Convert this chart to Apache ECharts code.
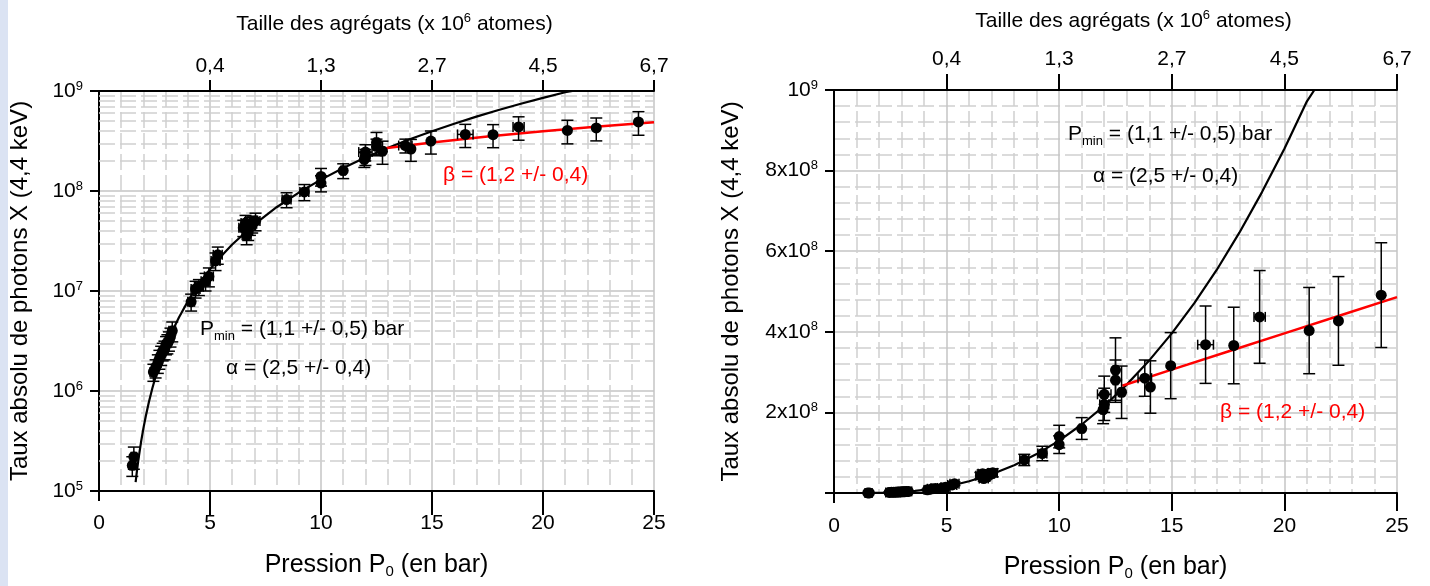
<!DOCTYPE html>
<html>
<head>
<meta charset="utf-8">
<script src="https://cdn.jsdelivr.net/npm/echarts@6/dist/echarts.min.js"></script>
<style>
html,body{margin:0;padding:0;background:#fff;}
#chart{width:1430px;height:586px;}
</style>
</head>
<body>
<div id="chart"></div>
<script>
// ---- data ----
var pressure    = [1.50,1.57,2.45,2.55,2.65,2.72,2.80,2.87,2.95,3.02,3.08,3.15,3.22,3.30,4.15,4.35,4.50,4.80,4.95,5.25,5.35,6.50,6.60,6.65,6.72,6.80,6.90,7.05,8.45,9.25,10.0,10.0,11.0,11.95,12.0,12.0,12.5,12.5,12.77,13.8,14.05,14.95,16.5,17.75,18.9,21.1,22.4,24.3];
var photons     = [1.8e5,2.2e5,1.55e6,1.7e6,1.9e6,2.1e6,2.3e6,2.5e6,2.6e6,2.9e6,3.0e6,3.2e6,3.5e6,4.0e6,7.8e6,1.05e7,1.1e7,1.25e7,1.4e7,2.0e7,2.3e7,4.3e7,4.8e7,3.6e7,4.0e7,4.5e7,4.7e7,5.0e7,8.2e7,9.8e7,1.2e8,1.4e8,1.6e8,2.07e8,2.2e8,2.45e8,3.05e8,2.8e8,2.5e8,2.85e8,2.63e8,3.16e8,3.68e8,3.66e8,4.37e8,4.03e8,4.27e8,4.91e8];
var photonsErr  = [0.4e5,0.55e5,0.3e6,0.35e6,0.4e6,0.45e6,0.5e6,0.5e6,0.55e6,0.6e6,0.65e6,0.7e6,0.75e6,0.9e6,1.5e6,0.2e7,0.2e7,0.25e7,0.3e7,0.4e7,0.45e7,0.8e7,0.9e7,0.7e7,0.8e7,0.9e7,0.9e7,1.0e7,1.4e7,1.8e7,0.22e8,0.28e8,0.27e8,0.35e8,0.4e8,0.45e8,0.8e8,0.5e8,0.65e8,0.45e8,0.65e8,0.82e8,0.96e8,0.95e8,1.15e8,1.07e8,1.1e8,1.3e8];
var pressureErr = [0.12,0.12,0.15,0.15,0.15,0.15,0.15,0.15,0.15,0.15,0.15,0.15,0.15,0.15,0.15,0.2,0.2,0.2,0.2,0.2,0.2,0.2,0.2,0.2,0.2,0.2,0.2,0.2,0.2,0.2,0.05,0.05,0.1,0.1,0.2,0.3,0.1,0.1,0.1,0.3,0.05,0.05,0.35,0.05,0.25,0.05,0.05,0.05];

// fitted curves
var fitP = [1.65,1.7,1.75,1.8,1.9,2.0,2.1,2.25,2.4,2.6,2.8,3.0,3.3,3.6,4.0,4.5,5.0,5.5,6,7,8,9,10,11,12,13,14,15,16,17,18,19,20,21,21.33];
var fitV = [1.23e5,1.53e5,1.87e5,2.25e5,3.15e5,4.23e5,5.5e5,7.8e5,1.06e6,1.52e6,2.07e6,2.74e6,3.95e6,5.44e6,7.88e6,1.17e7,1.65e7,2.23e7,2.92e7,4.65e7,6.88e7,9.65e7,1.30e8,1.70e8,2.16e8,2.69e8,3.29e8,3.96e8,4.71e8,5.54e8,6.46e8,7.46e8,8.54e8,9.72e8,1.0e9];
var redP = [12.8,15,17.5,20,22.5,25];
var redV = [2.66e8,3.06e8,3.51e8,3.96e8,4.41e8,4.86e8];

// top axis (cluster size)
var sizeTicks  = [5,10,15,20,25];
var sizeLabels = ['0,4','1,3','2,7','4,5','6,7'];

// ---- build ----
var FONT = "'Liberation Sans', Arial, sans-serif";
var pts = [], errs = [];
for (var i = 0; i < pressure.length; i++) {
  pts.push([pressure[i], photons[i]]);
  errs.push([pressure[i], photons[i], photonsErr[i], pressureErr[i]]);
}
var fit = fitP.map(function (p, i) { return [p, fitV[i]]; });
var red = redP.map(function (p, i) { return [p, redV[i]]; });

var logMinor = [];
for (var e = 5; e < 9; e++) for (var m = 2; m <= 9; m++) logMinor.push({ yAxis: m * Math.pow(10, e) });

function ls() { return { stroke: '#000', lineWidth: 1.5 }; }
function errorBars(params, api) {
  var x = api.value(0), y = api.value(1), ey = api.value(2), ex = api.value(3);
  var t = api.coord([x, y + ey]), b = api.coord([x, y - ey]);
  var cw = 6;
  var ch = [
    { type: 'line', shape: { x1: t[0], y1: t[1], x2: b[0], y2: b[1] }, style: ls() },
    { type: 'line', shape: { x1: t[0] - cw, y1: t[1], x2: t[0] + cw, y2: t[1] }, style: ls() },
    { type: 'line', shape: { x1: b[0] - cw, y1: b[1], x2: b[0] + cw, y2: b[1] }, style: ls() }
  ];
  if (ex > 0.08) {
    var l = api.coord([x - ex, y]), r = api.coord([x + ex, y]);
    ch.push({ type: 'line', shape: { x1: l[0], y1: l[1], x2: r[0], y2: r[1] }, style: ls() });
    ch.push({ type: 'line', shape: { x1: l[0], y1: l[1] - 5, x2: l[0], y2: l[1] + 5 }, style: ls() });
    ch.push({ type: 'line', shape: { x1: r[0], y1: r[1] - 5, x2: r[0], y2: r[1] + 5 }, style: ls() });
  }
  return { type: 'group', children: ch };
}

var majorGrid = { show: true, lineStyle: { color: '#c4c4c4', width: 1.5, type: 'solid' } };
var minorGrid = { show: true, lineStyle: { color: '#cfcfcf', width: 1.5, type: [16, 5] } };
var black2 = { color: '#000', width: 2 };
var tickLbl = { fontSize: 21, color: '#000', fontFamily: FONT };

function bottomAxis(gi, margin) {
  return {
    gridIndex: gi, type: 'value', position: 'bottom', min: 0, max: 25, interval: 5,
    axisLine: { show: true, onZero: false, lineStyle: black2 },
    axisTick: { show: true, inside: false, length: 10, lineStyle: black2 },
    axisLabel: Object.assign({ margin: margin }, tickLbl),
    splitLine: majorGrid,
    minorTick: { show: false, splitNumber: 5 },
    minorSplitLine: minorGrid,
    name: '{a|Pression P}{s|0}{a| (en bar)}',
    nameLocation: 'middle', nameGap: 60,
    nameTextStyle: { rich: {
      a: { fontSize: 25, fontFamily: FONT, color: '#000' },
      s: { fontSize: 15, fontFamily: FONT, color: '#000', padding: [13, 0, 0, 0] }
    } }
  };
}
function topAxisOuter(gi, tickLen, margin, gap) {
  return {
    gridIndex: gi, type: 'value', position: 'top', min: 0, max: 25, interval: 5,
    axisLine: { show: true, onZero: false, lineStyle: black2 },
    axisTick: { show: true, inside: false, length: tickLen, lineStyle: black2, customValues: sizeTicks },
    axisLabel: Object.assign({
      margin: margin, customValues: sizeTicks,
      formatter: function (v) { var k = sizeTicks.indexOf(v); return k >= 0 ? sizeLabels[k] : ''; }
    }, tickLbl),
    splitLine: { show: false },
    name: '{a|Taille des agrégats (x 10}{s|6}{a| atomes)}',
    nameLocation: 'middle', nameGap: gap,
    nameTextStyle: { padding: [0, 0, 0, 36], rich: {
      a: { fontSize: 21, fontFamily: FONT, color: '#000' },
      s: { fontSize: 13, fontFamily: FONT, color: '#000', padding: [0, 0, 11, 0] }
    } }
  };
}
function topAxisInner(gi, tickLen) {
  return {
    gridIndex: gi, type: 'value', position: 'top', min: 0, max: 25, interval: 5,
    axisLine: { show: false },
    axisTick: { show: true, inside: true, length: tickLen, lineStyle: black2, customValues: sizeTicks },
    axisLabel: { show: false }, splitLine: { show: false }
  };
}
function frameRight(gi) {
  return {
    gridIndex: gi, type: 'value', position: 'right', min: 0, max: 1,
    axisLine: { show: true, lineStyle: black2 },
    axisTick: { show: false }, axisLabel: { show: false }, splitLine: { show: false }
  };
}
var yName = 'Taux absolu de photons X (4,4 keV)';
var yNameStyle = { fontSize: 24, fontFamily: FONT, color: '#000' };
var supRich = {
  b: { fontSize: 21, fontFamily: FONT, color: '#000' },
  s: { fontSize: 13, fontFamily: FONT, color: '#000', padding: [0, 0, 10, 0] }
};

function annot(x, y, text) {
  return { type: 'text', left: x, top: y, z: 50,
    style: { text: text, rich: annRich, fill: '#000', font: '21px ' + FONT } };
}
var annRich = {
  a: { fontSize: 21, fontFamily: FONT, fill: '#000' },
  m: { fontSize: 13, fontFamily: FONT, fill: '#000', padding: [13, 0, 0, 0] },
  r: { fontSize: 21, fontFamily: FONT, fill: '#ff0000' }
};

var option = {
  animation: false,
  backgroundColor: '#ffffff',
  grid: [
    { left: 99, top: 91, width: 555, height: 400 },
    { left: 834, top: 90, width: 563, height: 407 }
  ],
  xAxis: [
    bottomAxis(0, 22), topAxisOuter(0, 11, 14, 55), topAxisInner(0, 24),
    bottomAxis(1, 23), topAxisOuter(1, 16, 20, 57), topAxisInner(1, 18)
  ],
  yAxis: [
    {
      gridIndex: 0, type: 'log', logBase: 10, min: 1e5, max: 1e9, position: 'left',
      axisLine: { show: true, onZero: false, lineStyle: black2 },
      axisTick: { show: true, length: 9, lineStyle: black2 },
      axisLabel: { margin: 16, formatter: function (v) {
        return '{b|10}{s|' + Math.round(Math.log10(v)) + '}'; }, rich: supRich },
      splitLine: majorGrid,
      name: yName, nameLocation: 'middle', nameGap: 67, nameTextStyle: yNameStyle
    },
    frameRight(0),
    {
      gridIndex: 1, type: 'value', min: 0, max: 1e9, interval: 2e8, position: 'left',
      axisLine: { show: true, onZero: false, lineStyle: black2 },
      axisTick: { show: true, length: 9, lineStyle: black2 },
      axisLabel: { margin: 16, formatter: function (v) {
        if (v === 0) return '';
        if (v >= 1e9) return '{b|10}{s|9}';
        return '{b|' + Math.round(v / 1e8) + 'x10}{s|8}'; }, rich: supRich },
      splitLine: majorGrid,
      minorTick: { show: false, splitNumber: 5 },
      minorSplitLine: minorGrid,
      name: yName, nameLocation: 'middle', nameGap: 91, nameTextStyle: yNameStyle
    },
    frameRight(1)
  ],
  series: [
    { type: 'line', xAxisIndex: 0, yAxisIndex: 0, data: [[0, 1e5]], symbol: 'none', z: 1, silent: true,
      lineStyle: { opacity: 0 },
      markLine: { z: 1, silent: true, symbol: ['none', 'none'], label: { show: false }, animation: false,
        lineStyle: { color: '#cfcfcf', width: 1.5, type: [16, 5] }, data: logMinor } },
    { type: 'line', xAxisIndex: 0, yAxisIndex: 0, data: fit, showSymbol: false, symbol: 'none', z: 3,
      lineStyle: { color: '#000', width: 2.2 } },
    { type: 'line', xAxisIndex: 0, yAxisIndex: 0, data: red, showSymbol: false, symbol: 'none', z: 3,
      lineStyle: { color: '#ff0000', width: 2.5 } },
    { type: 'custom', xAxisIndex: 0, yAxisIndex: 0, data: errs, renderItem: errorBars, z: 4,
      encode: { x: 0, y: 1 } },
    { type: 'scatter', xAxisIndex: 0, yAxisIndex: 0, data: pts, symbolSize: 11, z: 5,
      itemStyle: { color: '#000', opacity: 1 } },

    { type: 'line', xAxisIndex: 3, yAxisIndex: 2, data: fit, showSymbol: false, symbol: 'none', z: 3,
      lineStyle: { color: '#000', width: 2.2 } },
    { type: 'line', xAxisIndex: 3, yAxisIndex: 2, data: red, showSymbol: false, symbol: 'none', z: 3,
      lineStyle: { color: '#ff0000', width: 2.5 } },
    { type: 'custom', xAxisIndex: 3, yAxisIndex: 2, data: errs, renderItem: errorBars, z: 4,
      encode: { x: 0, y: 1 } },
    { type: 'scatter', xAxisIndex: 3, yAxisIndex: 2, data: pts, symbolSize: 11, z: 5,
      itemStyle: { color: '#000', opacity: 1 } }
  ],
  graphic: [
    { type: 'rect', left: 0, top: 0, z: 0, shape: { width: 8, height: 586 }, style: { fill: '#dbe3f3' } },
    annot(200, 319, '{a|P}{m|min}{a| = (1,1 +/- 0,5) bar}'),
    annot(226, 358, '{a|α = (2,5 +/- 0,4)}'),
    annot(443, 165, '{r|β = (1,2 +/- 0,4)}'),
    annot(1068, 124, '{a|P}{m|min}{a| = (1,1 +/- 0,5) bar}'),
    annot(1093, 166, '{a|α = (2,5 +/- 0,4)}'),
    annot(1220, 402, '{r|β = (1,2 +/- 0,4)}')
  ]
};
var chart = echarts.init(document.getElementById('chart'), null, { renderer: 'canvas' });
chart.setOption(option);
</script>
</body>
</html>
